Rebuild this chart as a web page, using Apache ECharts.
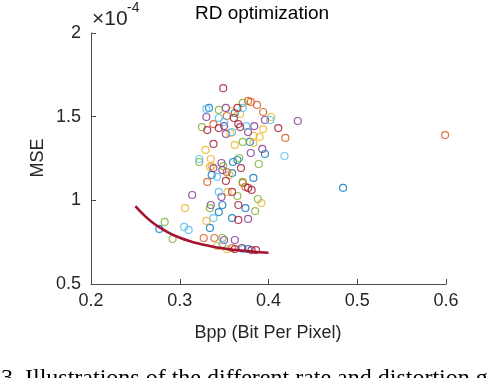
<!DOCTYPE html>
<html><head><meta charset="utf-8">
<script src="https://cdn.jsdelivr.net/npm/echarts@6/dist/echarts.min.js"></script>
<style>html,body{margin:0;padding:0;background:#fff}#c{width:494px;height:378px}</style>
</head><body><div id="c"></div>
<script>
const xTicks = [0.2, 0.3, 0.4, 0.5, 0.6];
const yTicks = [0.5, 1, 1.5, 2];
const bluePts = [[0.333,1.552],[0.362,1.522],[0.379,1.349],[0.336,1.152],[0.344,0.930],[0.348,0.972],[0.396,1.277],[0.365,1.241],[0.360,1.229],[0.359,1.163],[0.383,1.134],[0.374,0.954],[0.334,0.835],[0.277,0.829],[0.377,0.709],[0.484,1.075],[0.359,0.894]];
const orangePts = [[0.353,1.504],[0.338,1.456],[0.377,1.594],[0.380,1.588],[0.387,1.570],[0.394,1.528],[0.419,1.373],[0.331,1.110],[0.374,1.080],[0.327,0.775],[0.339,0.775],[0.359,0.715],[0.599,1.390],[0.371,1.104],[0.353,1.169]];
const yellowPts = [[0.359,1.534],[0.368,1.516],[0.403,1.498],[0.394,1.426],[0.390,1.379],[0.383,1.385],[0.383,1.343],[0.329,1.301],[0.335,1.247],[0.334,1.199],[0.306,0.954],[0.330,0.877],[0.392,0.984],[0.342,0.727],[0.353,0.709],[0.354,1.050],[0.357,1.403],[0.362,1.331],[0.336,1.205],[0.356,1.152]];
const purplePts = [[0.352,1.552],[0.330,1.498],[0.350,1.444],[0.352,1.397],[0.396,1.480],[0.433,1.474],[0.384,1.444],[0.377,1.408],[0.347,1.223],[0.338,1.193],[0.348,1.181],[0.347,1.020],[0.314,1.032],[0.335,0.972],[0.380,1.283],[0.393,1.307],[0.350,0.763],[0.362,0.763],[0.377,0.889]];
const greenPts = [[0.344,1.540],[0.325,1.438],[0.371,1.582],[0.371,1.349],[0.322,1.229],[0.349,1.205],[0.367,1.253],[0.389,1.217],[0.371,1.110],[0.365,1.026],[0.388,1.008],[0.385,0.936],[0.334,0.954],[0.283,0.871],[0.292,0.769],[0.348,0.775]];
const lightBluePts = [[0.330,1.546],[0.344,1.492],[0.350,1.468],[0.371,1.552],[0.402,1.480],[0.375,1.444],[0.359,1.408],[0.418,1.265],[0.322,1.247],[0.342,1.140],[0.344,1.050],[0.305,0.841],[0.310,0.823],[0.338,0.894],[0.348,0.733],[0.371,0.709]];
const redPts = [[0.349,1.670],[0.331,1.420],[0.344,1.432],[0.338,1.337],[0.365,1.552],[0.361,1.492],[0.366,1.456],[0.368,1.438],[0.411,1.432],[0.352,1.116],[0.369,1.193],[0.377,1.074],[0.381,1.062],[0.359,1.050],[0.366,0.972],[0.366,0.883],[0.362,0.709],[0.370,0.715],[0.381,0.703],[0.386,0.703]];
const curvePts = [[0.25,0.965],[0.26,0.91],[0.27,0.865],[0.28,0.83],[0.29,0.80],[0.30,0.777],[0.31,0.758],[0.32,0.743],[0.33,0.731],[0.34,0.72],[0.35,0.712],[0.36,0.705],[0.37,0.70],[0.38,0.695],[0.39,0.69],[0.40,0.687]];

const groups = [
  [bluePts,'#0072BD'],[orangePts,'#D95319'],[yellowPts,'#EDB120'],[purplePts,'#7E2F8E'],
  [greenPts,'#77AC30'],[lightBluePts,'#4DBEEE'],[redPts,'#A2142F']
];
const font = 'Liberation Sans, Arial, Helvetica, sans-serif';
const axisCol = '#4d4d4d';
const series = groups.map(g => ({
  type:'scatter', data:g[0], symbol:'circle', symbolSize:7,
  itemStyle:{color:'rgba(0,0,0,0)', borderColor:g[1], borderWidth:1.2},
  silent:true
}));
series.push({type:'line', data:curvePts, smooth:true, showSymbol:false, symbol:'none',
  lineStyle:{color:'#A2142F', width:2.6}, z:5, silent:true});

const chart = echarts.init(document.getElementById('c'), null, {renderer:'canvas'});
chart.setOption({
  animation:false,
  backgroundColor:'#fff',
  grid:{left:91, right:48, top:33, bottom:94, containLabel:false},
  xAxis:{type:'value', min:xTicks[0], max:xTicks[xTicks.length-1], interval:0.1,
    axisLine:{lineStyle:{color:axisCol, width:1}},
    axisTick:{inside:true, length:5, lineStyle:{color:axisCol}},
    splitLine:{show:false},
    axisLabel:{color:'#262626', fontFamily:font, fontSize:18, margin:8,
      formatter:v => xTicks.find(t => Math.abs(t-v)<1e-6)?.toFixed(1) ?? ''}
  },
  yAxis:{type:'value', min:yTicks[0], max:yTicks[yTicks.length-1], interval:0.5,
    axisLine:{lineStyle:{color:axisCol, width:1}},
    axisTick:{inside:true, length:5, lineStyle:{color:axisCol}},
    splitLine:{show:false},
    axisLabel:{color:'#262626', fontFamily:font, fontSize:18, margin:10,
      formatter:v => { const t = yTicks.find(t => Math.abs(t-v)<1e-6); return t===undefined?'':String(t); }}
  },
  series:series,
  graphic:[
    {type:'text', x:262, y:14, style:{text:'RD optimization', font:'19px '+font, fill:'#000', align:'center', verticalAlign:'middle'}},
    {type:'text', x:92, y:19, style:{text:'×10', font:'21px '+font, fill:'#262626', align:'left', verticalAlign:'middle'}},
    {type:'text', x:127, y:8, style:{text:'-4', font:'14px '+font, fill:'#262626', align:'left', verticalAlign:'middle'}},
    {type:'text', x:38, y:158, rotation:Math.PI/2, style:{text:'MSE', font:'18px '+font, fill:'#262626', align:'center', verticalAlign:'middle'}},
    {type:'text', x:268, y:333, style:{text:'Bpp (Bit Per Pixel)', font:'18px '+font, fill:'#262626', align:'center', verticalAlign:'middle'}},
    {type:'text', x:1, y:367, style:{text:'3. Illustrations of the different rate and distortion g', font:'24px Liberation Serif, Times New Roman, serif', fill:'#000', verticalAlign:'alphabetic'}}
  ]
});
</script></body></html>
